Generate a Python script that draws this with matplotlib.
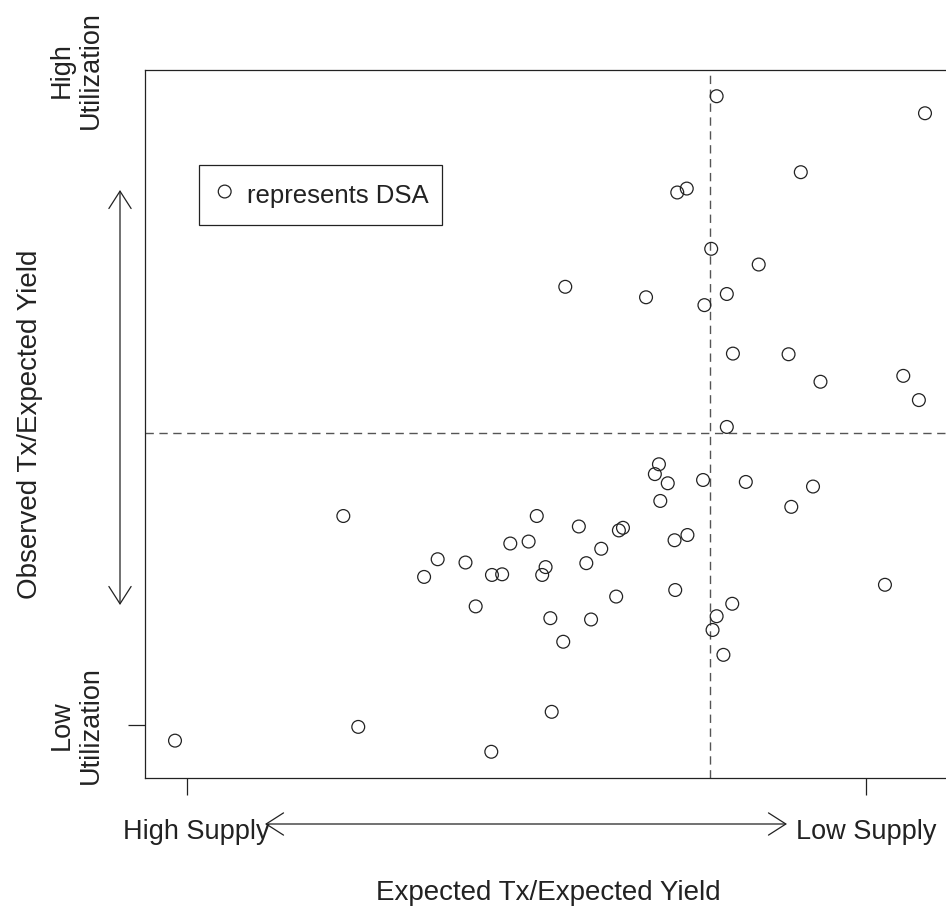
import matplotlib
matplotlib.use("Agg")
import matplotlib.pyplot as plt
import numpy as np

plt.rcParams['font.family'] = ['Liberation Sans', 'DejaVu Sans']

# Expected Tx / Expected Yield (0 = High Supply tick, 1 = Low Supply tick)
x_vals = [0.230, 0.349, 0.369, 0.410, 0.425, 0.449, 0.464, 0.476, 0.503, 0.515,
          0.528, 0.523, 0.535, 0.554, 0.577, 0.588, 0.595, 0.610, 0.632, 0.636,
          0.642, 0.695, 0.689, 0.708, 0.697, 0.718, 0.737, 0.719, 0.760, 0.823,
          0.780, 0.774, 0.803, 0.790, 0.795, 0.780, 1.087, 0.904, 0.722, 0.736,
          0.772, 0.842, 0.557, 0.676, 0.762, 0.795, 0.804, 0.886, 0.933, 1.055,
          1.078, 0.922, 0.890, 1.028, -0.018, 0.252, 0.448, 0.537]
# Observed Tx / Expected Yield (0 = Low Utilization tick, 1 = High Utilization)
y_vals = [0.319, 0.226, 0.253, 0.248, 0.181, 0.229, 0.230, 0.277, 0.280, 0.319,
          0.241, 0.229, 0.163, 0.127, 0.303, 0.247, 0.161, 0.269, 0.196, 0.297,
          0.301, 0.398, 0.383, 0.369, 0.342, 0.282, 0.290, 0.206, 0.374, 0.371,
          0.166, 0.145, 0.185, 0.107, 0.455, 0.960, 0.934, 0.844, 0.813, 0.819,
          0.727, 0.703, 0.669, 0.653, 0.641, 0.658, 0.567, 0.566, 0.524, 0.533,
          0.496, 0.364, 0.333, 0.214, -0.024, -0.003, -0.041, 0.020]

x_ticks = [0.0, 1.0]
x_tick_labels = ["High Supply", "Low Supply"]
y_ticks = [0.0, 1.0]
y_tick_labels = ["Low\nUtilization", "High\nUtilization"]
x_ref = 0.770
y_ref = 0.445

W, H = 946, 913
fig = plt.figure(figsize=(W / 100, H / 100), dpi=100)
ax = fig.add_axes([145 / W, 135 / H, 810 / W, 708 / H])

text_color = "#222222"

x = np.array(x_vals)
y = np.array(y_vals)
# R-style 4% axis padding
xr = x.max() - x.min()
yr = y.max() - y.min()
ax.set_xlim(x.min() - 0.04 * xr, x.max() + 0.04 * xr)
ax.set_ylim(y.min() - 0.04 * yr, y.max() + 0.04 * yr)

ax.scatter(x, y, s=85, facecolors="none", edgecolors="#222222", linewidths=0.9,
           label="represents DSA", zorder=3)

ax.axvline(x_ref, color="#555555", lw=1.0, ls=(0, (6, 4)), zorder=2)
ax.axhline(y_ref, color="#555555", lw=1.0, ls=(0, (6, 4)), zorder=2)

for sp in ax.spines.values():
    sp.set_linewidth(0.9)
    sp.set_color("#222222")

ax.set_xticks(x_ticks)
ax.set_xticklabels([])
ax.set_yticks(y_ticks[:1])
ax.set_yticklabels([])
ax.tick_params(axis="both", length=12.5, width=0.9, color="#222222")

# tick labels
xt = ax.get_xaxis_transform()
for xv, lab, dx in zip(x_ticks, x_tick_labels, [0.013, 0.0]):
    ax.text(xv + dx, -54 / 708, lab, transform=xt, ha="center", va="center",
            fontsize=19.5, color=text_color)
yt = ax.get_yaxis_transform()
for yv, lab in zip(y_ticks, y_tick_labels):
    ax.text(-69 / 810, yv, lab, transform=yt, ha="center", va="center",
            rotation=90, fontsize=19.5, color=text_color, linespacing=1.15)

fig.text(548 / W, 1 - 893 / H, "Expected Tx/Expected Yield", ha="center", va="center",
         fontsize=20, color=text_color)
fig.text(30 / W, 1 - 424 / H, "Observed Tx/Expected Yield", ha="center", va="center",
         rotation=90, fontsize=20, color=text_color)

# double-headed arrows
arrow_kw = dict(arrowstyle="<->,head_length=1.25,head_width=0.8", color="#222222",
                lw=0.9, shrinkA=0, shrinkB=0, mutation_scale=10)
ax.annotate("", xy=(787, H - 824), xytext=(265, H - 824), xycoords="figure pixels",
            textcoords="figure pixels", arrowprops=arrow_kw, annotation_clip=False)
ax.annotate("", xy=(120, H - 190), xytext=(120, H - 605), xycoords="figure pixels",
            textcoords="figure pixels", arrowprops=arrow_kw, annotation_clip=False)

leg = ax.legend(loc="upper left", bbox_to_anchor=(54 / 810, 1 - 95 / 708),
                borderaxespad=0, fancybox=False, edgecolor="#222222", framealpha=1,
                fontsize=18.5, handletextpad=0.4, borderpad=0.55, handlelength=0.9,
                handleheight=1.5, labelcolor=text_color, markerscale=1.0)
leg.get_frame().set_linewidth(0.9)

fig.savefig("out.png", dpi=100)
